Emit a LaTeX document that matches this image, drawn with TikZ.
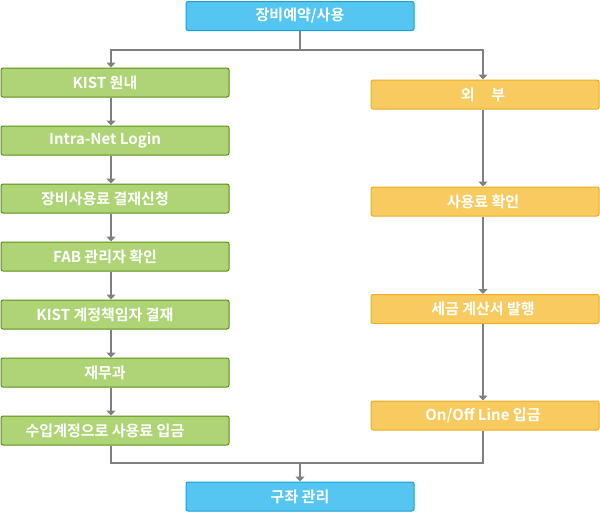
\documentclass[tikz,border=0pt]{standalone}
\usepackage{fontspec}
\setmainfont{Noto Sans CJK KR}[BoldFont={Noto Sans CJK KR Bold}]
\usetikzlibrary{arrows.meta}
\definecolor{bluefill}{HTML}{55C6F2}
\definecolor{blueline}{HTML}{1A9ED6}
\definecolor{greenfill}{HTML}{AED476}
\definecolor{greenline}{HTML}{5A8F12}
\definecolor{yellowfill}{HTML}{F8CB61}
\definecolor{yellowline}{HTML}{F0AE1C}
\definecolor{linegray}{HTML}{808080}
\tikzset{
  box/.style={rounded corners=2pt, line width=1pt, minimum width=228pt, minimum height=29pt,
    inner sep=0pt, text=white, font=\fontsize{15}{17}\selectfont\bfseries},
  bluebox/.style={box, draw=blueline, fill=bluefill},
  greenbox/.style={box, draw=greenline, fill=greenfill, execute at end node={\hspace*{20pt}}},
  yellowbox/.style={box, draw=yellowline, fill=yellowfill, execute at end node={\hspace*{4pt}}},
  line/.style={draw=linegray, line width=2pt},
  arr/.style={line, -{Triangle[length=5pt, width=9pt]}}
}
\begin{document}
\begin{tikzpicture}[x=1pt, y=1pt]
	\useasboundingbox (0,0) rectangle (600,-520);
	% top and bottom
	\node[bluebox] (use) at (300,-16) {장비예약/사용};
	\node[bluebox] (bank) at (300,-496.5) {구좌 관리};
	% KIST inside
	\node[greenbox] (kist) at (115,-82.5) {KIST 원내};
	\node[greenbox] (login) at (115,-140.5) {Intra-Net Login};
	\node[greenbox] (request) at (115,-198.5) {장비사용료 결재신청};
	\node[greenbox] (fab) at (115,-256.5) {FAB 관리자 확인};
	\node[greenbox] (approve) at (115,-314.5) {KIST 계정책임자 결재};
	\node[greenbox] (finance) at (115,-372.5) {재무과};
	\node[greenbox] (income) at (115,-430.5) {수입계정으로 사용료 입금};
	% outside
	\node[yellowbox] (outside) at (485,-94.5) {외\hspace{1.1em}부};
	\node[yellowbox] (fee) at (485,-201.5) {사용료 확인};
	\node[yellowbox] (tax) at (485,-309) {세금 계산서 발행};
	\node[yellowbox] (onoff) at (485,-415.5) {On/Off Line 입금};
	% connectors
	\coordinate (split) at (300,-50);
	\coordinate (join) at (300,-463);
	\draw[line] (use) -- (split);
	\draw[arr] (split) -| ([xshift=-4pt]kist.north);
	\draw[arr] (split) -| ([xshift=-2pt]outside.north);
	\draw[arr] ([xshift=-4pt]kist.south) -- ([xshift=-4pt]login.north);
	\draw[arr] ([xshift=-4pt]login.south) -- ([xshift=-4pt]request.north);
	\draw[arr] ([xshift=-4pt]request.south) -- ([xshift=-4pt]fab.north);
	\draw[arr] ([xshift=-4pt]fab.south) -- ([xshift=-4pt]approve.north);
	\draw[arr] ([xshift=-4pt]approve.south) -- ([xshift=-4pt]finance.north);
	\draw[arr] ([xshift=-4pt]finance.south) -- ([xshift=-4pt]income.north);
	\draw[arr] ([xshift=-2pt]outside.south) -- ([xshift=-2pt]fee.north);
	\draw[arr] ([xshift=-2pt]fee.south) -- ([xshift=-2pt]tax.north);
	\draw[arr] ([xshift=-2pt]tax.south) -- ([xshift=-2pt]onoff.north);
	\draw[line] ([xshift=-4pt]income.south) |- (join) -| ([xshift=-2pt]onoff.south);
	\draw[arr] (join) -- (bank);
\end{tikzpicture}
\end{document}
